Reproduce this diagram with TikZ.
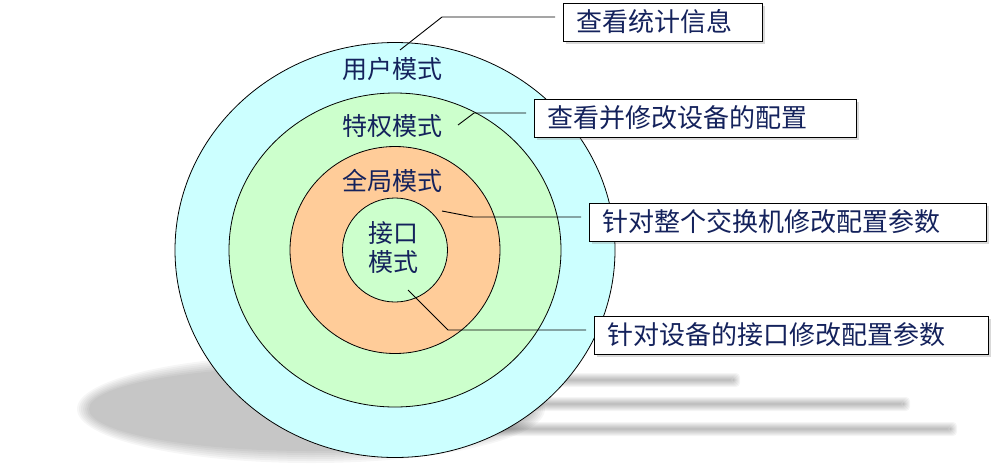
\documentclass[tikz,border=0pt]{standalone}
\usepackage{fontspec}
\setmainfont{Noto Sans CJK SC}
\usetikzlibrary{positioning, shapes.geometric, shadows}

\definecolor{usercol}{RGB}{204,255,255}
\definecolor{privcol}{RGB}{204,255,204}
\definecolor{globcol}{RGB}{255,204,153}
\definecolor{txtcol}{RGB}{20,34,92}

\begin{document}
\begin{tikzpicture}[x=1pt, y=-1pt,
    ring/.style={draw, ellipse, inner sep=0pt, line width=0.8pt},
    mode/.style={text=txtcol, font=\fontsize{25pt}{29pt}\selectfont, align=center, inner sep=0pt},
    infobox/.style={draw, fill=white, anchor=west, line width=0.9pt, minimum height=38pt,
        inner xsep=13pt, inner ysep=0pt, align=left, text=txtcol,
        font=\fontsize{26pt}{30pt}\selectfont,
        drop shadow={shadow xshift=3pt, shadow yshift=-3pt, opacity=0.3}},
    leader/.style={draw=black, line width=0.9pt, shorten >=8pt}]
    \useasboundingbox (0,0) rectangle (1001,467);

    % Shadows
    \foreach \k [evaluate=\k as \rx using 234-2*\k, evaluate=\k as \ry using 54-2*\k] in {0,...,6}
        \fill[black, opacity=0.035] (311,409) ellipse [x radius=\rx, y radius=\ry];
    \foreach \y/\e in {380/733, 404/903, 429/950}
        \foreach \k [evaluate=\k as \h using 10-\k] in {0,...,7}
            \fill[black, opacity=0.04, rounded corners=4pt] (480,{\y-\h}) rectangle ({\e+\h},{\y+\h});

    % Rings
    \node[ring, fill=usercol, minimum width=440pt, minimum height=415pt] (user) at (395,250) {};
    \node[ring, fill=privcol, minimum width=332pt, minimum height=314pt] (priv) at (395,250) {};
    \node[ring, fill=globcol, minimum width=210pt, minimum height=207pt] (glob) at (395,250) {};
    \node[ring, fill=privcol, minimum width=105pt, minimum height=104pt] (port) at (395,250) {};

    % Mode names
    \node[mode] (userlbl) at (392,69) {用户模式};
    \node[mode] (privlbl) at (392,126) {特权模式};
    \node[mode] (globlbl) at (392,181) {全局模式};
    \node[mode] (portlbl) at (393,248) {接口\\模式};

    % Notes
    \node[infobox, text width=173pt] (statbox) at (563,22) {查看统计信息};
    \node[infobox, text width=296pt] (privbox) at (534,118) {查看并修改设备的配置};
    \node[infobox, text width=371pt] (globbox) at (589,222) {针对整个交换机修改配置参数};
    \node[infobox, text width=368pt] (portbox) at (594,335) {针对设备的接口修改配置参数};

    % Leaders
    \coordinate (s1) at (400,50);  \coordinate (k1) at (442,17);
    \coordinate (s2) at (458,125); \coordinate (k2) at (474,113);
    \coordinate (s3) at (442,211); \coordinate (k3) at (473,217);
    \coordinate (s4) at (408,290); \coordinate (k4) at (448,330);
    \foreach \i/\note in {1/statbox, 2/privbox, 3/globbox, 4/portbox}
        \draw[leader] (s\i) -- (k\i) -- (k\i -| \note.west);
\end{tikzpicture}
\end{document}
